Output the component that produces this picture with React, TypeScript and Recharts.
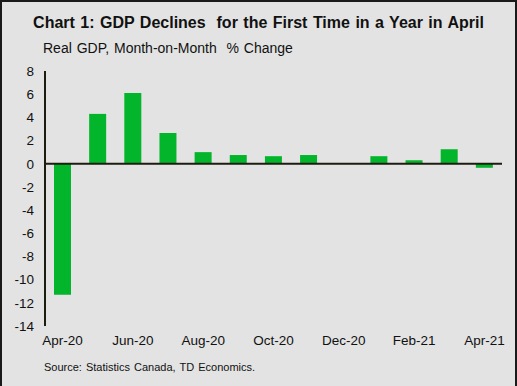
import { Bar, BarChart, ReferenceLine, XAxis, YAxis } from "recharts"

const months = [
  "Apr-20", "May-20", "Jun-20", "Jul-20", "Aug-20", "Sep-20", "Oct-20",
  "Nov-20", "Dec-20", "Jan-21", "Feb-21", "Mar-21", "Apr-21",
]
const gdpChange = [-11.3, 4.3, 6.1, 2.65, 1.0, 0.75, 0.65, 0.75, 0.0, 0.65, 0.3, 1.25, -0.35]
const yTicks = [8, 6, 4, 2, 0, -2, -4, -6, -8, -10, -12, -14]

const data = months.map((m, i) => ({ month: m, value: gdpChange[i] }))

const font = "'Liberation Sans', Arial, sans-serif"
const ink = "#1c1c10"

export default function App() {
  return (
    <div
      style={{
        position: "absolute",
        left: 0,
        top: 0,
        width: 517,
        height: 386,
        background: "#e3e3e3",
        fontFamily: font,
      }}
    >
      <div
        style={{
          position: "absolute",
          top: 14,
          left: 0,
          width: 517,
          textAlign: "center",
          fontWeight: "bold",
          fontSize: 16,
          color: "#111",
          whiteSpace: "pre",
          wordSpacing: 1,
        }}
      >
        Chart 1: GDP Declines  for the First Time in a Year in April
      </div>
      <div
        style={{
          position: "absolute",
          top: 40,
          left: 43,
          fontSize: 14,
          color: "#111",
          whiteSpace: "pre",
          wordSpacing: 1,
        }}
      >
        Real GDP, Month-on-Month  % Change
      </div>
      <BarChart
        width={517}
        height={386}
        data={data}
        margin={{ top: 71, right: 15, bottom: 30, left: 0 }}
        style={{ position: "absolute", left: 0, top: 0 }}
      >
        <YAxis
          width={45}
          domain={[-14, 8]}
          ticks={yTicks}
          interval={0}
          tickLine={false}
          tickSize={0}
          tickMargin={11}
          axisLine={{ stroke: ink, strokeWidth: 2 }}
          tick={{ fill: "#111", fontSize: 13.5, fontFamily: font }}
        />
        <XAxis
          dataKey="month"
          height={30}
          interval={1}
          axisLine={false}
          tickLine={false}
          tickSize={0}
          tickMargin={9}
          tick={{ fill: "#111", fontSize: 13.5, fontFamily: font }}
        />
        <Bar dataKey="value" fill="#03b52b" barSize={17} isAnimationActive={false} />
        <ReferenceLine y={0} stroke={ink} strokeWidth={2} />
      </BarChart>
      <div
        style={{
          position: "absolute",
          top: 361,
          left: 44,
          fontSize: 11,
          color: "#111",
          whiteSpace: "pre",
          wordSpacing: 1,
        }}
      >
        Source: Statistics Canada, TD Economics.
      </div>
      <div
        style={{
          position: "absolute",
          inset: 0,
          border: "2px solid #1a1a1a",
          borderBottom: "none",
          pointerEvents: "none",
        }}
      />
    </div>
  )
}
